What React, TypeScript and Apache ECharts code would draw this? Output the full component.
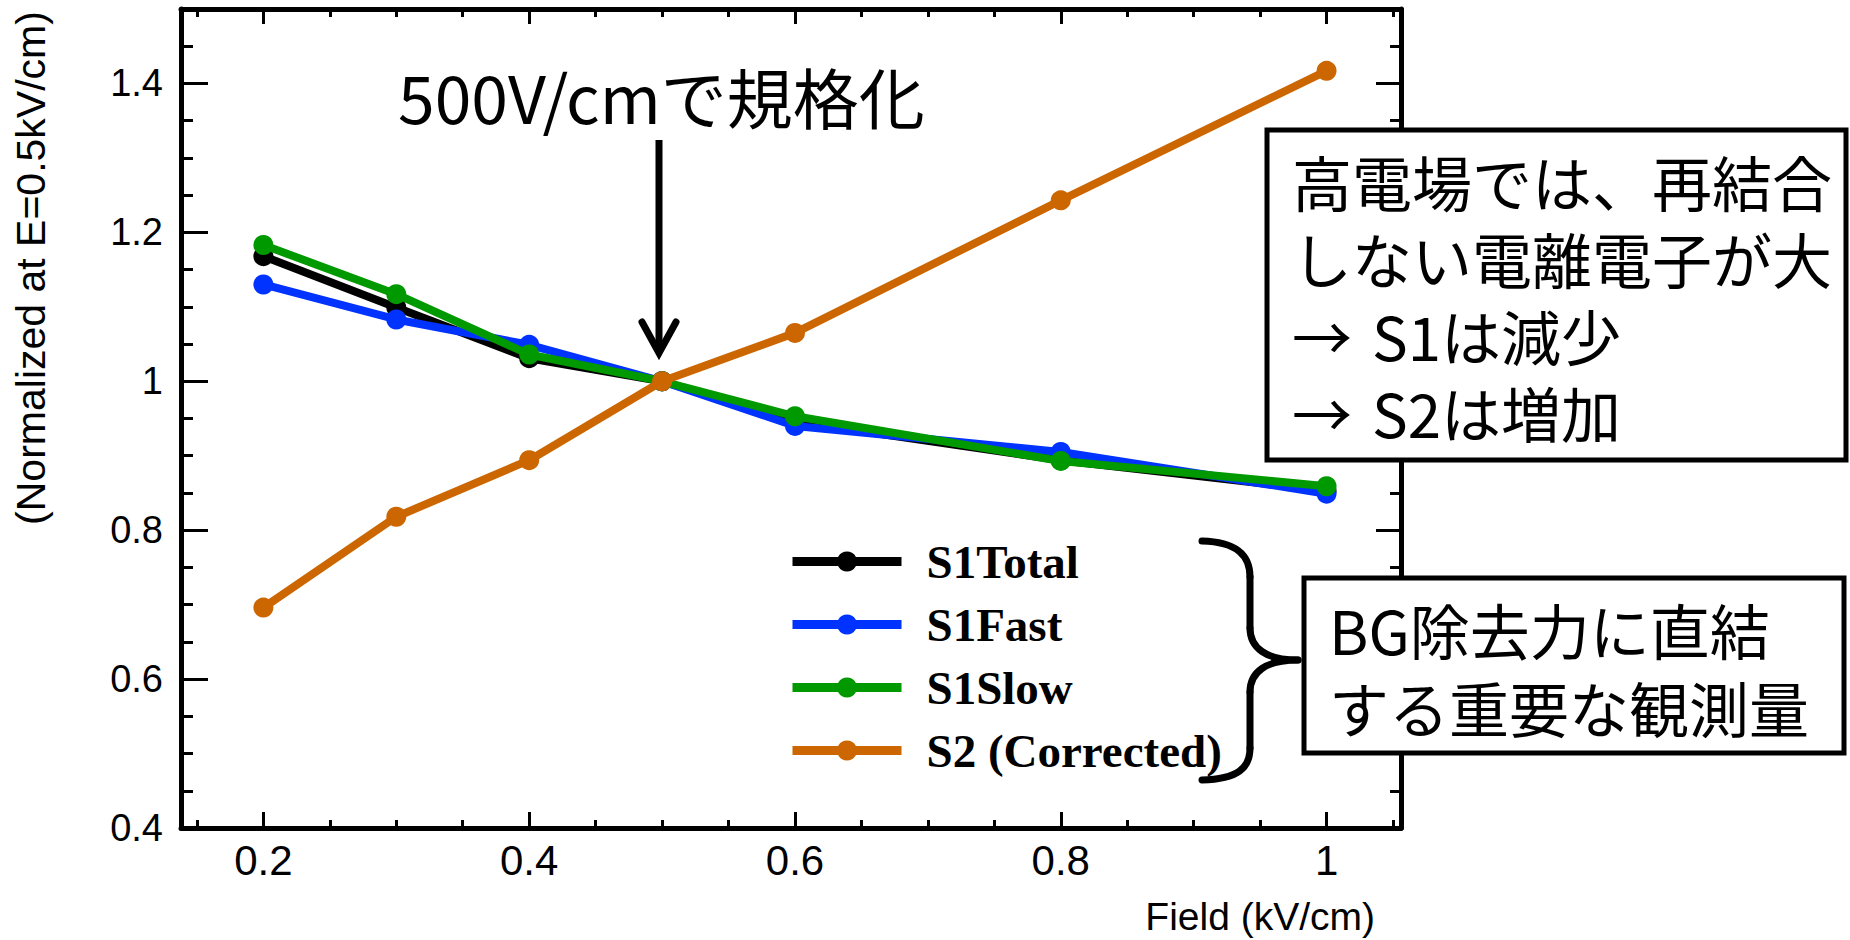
import React, { useEffect, useRef } from "react";
import * as echarts from "echarts";

// Drift field (kV/cm) and signal yields normalized at 0.5 kV/cm
const fields = [0.2, 0.3, 0.4, 0.5, 0.6, 0.8, 1.0];
const s1Total = [1.168, 1.099, 1.031, 1.0, 0.946, 0.894, 0.853];
const s1Fast = [1.13, 1.083, 1.049, 1.0, 0.94, 0.905, 0.849];
const s1Slow = [1.183, 1.117, 1.036, 1.0, 0.953, 0.893, 0.859];
const s2Corrected = [0.696, 0.818, 0.894, 1.0, 1.065, 1.243, 1.417];

const seriesNames = ["S1Total", "S1Fast", "S1Slow", "S2 (Corrected)"];
const seriesValues = [s1Total, s1Fast, s1Slow, s2Corrected];
const seriesColors = ["#000000", "#0033ff", "#009900", "#cc6600"];

const xRange = [0.138, 1.056];
const yRange = [0.4, 1.5];
const xMajorTicks = [0.2, 0.4, 0.6, 0.8, 1.0];
const xMinorTicks = [0.15, 0.25, 0.3, 0.35, 0.45, 0.5, 0.55, 0.65, 0.7, 0.75, 0.85, 0.9, 0.95, 1.05];
const yMajorTicks = [0.4, 0.6, 0.8, 1.0, 1.2, 1.4];
const yMinorTicks = [0.45, 0.5, 0.55, 0.65, 0.7, 0.75, 0.85, 0.9, 0.95, 1.05, 1.1, 1.15, 1.25, 1.3, 1.35, 1.45];

const xTitle = "Field (kV/cm)";
const yTitle = "(Normalized at E=0.5kV/cm)";
const noteTitle = "500V/cmで規格化";
// a wider space after each arrow keeps the gap before "S1"/"S2"
const noteBox1 = ["高電場では、再結合", "しない電離電子が大", "→\u2004S1は減少", "→\u2004S2は増加"];
const noteBox2 = ["BG除去力に直結", "する重要な観測量"];

const SANS = "Liberation Sans, Arial, Helvetica, sans-serif";
const SERIF = "Liberation Serif, Times New Roman, serif";
const CJK = "Noto Sans CJK JP, sans-serif";

function xAxisDef(position: "bottom" | "top", ticks: number[], len: number, withLine: boolean, withLabels: boolean) {
  return {
    type: "value",
    position,
    min: xRange[0],
    max: xRange[1],
    splitLine: { show: false },
    axisLine: { show: withLine, onZero: false, lineStyle: { color: "#000", width: 5 } },
    axisTick: { show: true, inside: true, length: len, customValues: ticks, lineStyle: { color: "#000", width: 3 } },
    axisLabel: withLabels
      ? { show: true, customValues: xMajorTicks, fontSize: 42, fontFamily: SANS, color: "#000", margin: 11 }
      : { show: false },
  };
}

function yAxisDef(position: "left" | "right", ticks: number[], len: number, withLine: boolean, withLabels: boolean) {
  return {
    type: "value",
    position,
    min: yRange[0],
    max: yRange[1],
    splitLine: { show: false },
    axisLine: { show: withLine, onZero: false, lineStyle: { color: "#000", width: 5 } },
    axisTick: { show: true, inside: true, length: len, customValues: ticks, lineStyle: { color: "#000", width: 3 } },
    axisLabel: withLabels
      ? { show: true, customValues: yMajorTicks, fontSize: 38, fontFamily: SANS, color: "#000", margin: 18 }
      : { show: false },
  };
}

function textEl(text: string, x: number, y: number, fontSize: number, fontFamily: string, align: string, extra: any = {}) {
  return {
    type: "text",
    x,
    y,
    z: 100,
    ...extra,
    style: {
      text,
      fill: "#000",
      fontSize,
      fontFamily,
      align,
      verticalAlign: "middle",
    },
  };
}

// multi-line note text: one block per box, lines spaced by lineHeight
function noteBlock(lines: string[], x: number, firstCenterY: number, lineHeight: number) {
  return {
    type: "text",
    x,
    y: firstCenterY - lineHeight / 2,
    z: 100,
    style: {
      text: lines.join("\n"),
      fill: "#000",
      fontSize: 60,
      fontFamily: CJK,
      align: "left",
      verticalAlign: "top",
      lineHeight,
    },
  };
}

export default function App() {
  const ref = useRef<HTMLDivElement>(null);

  useEffect(() => {
    if (!ref.current) return;
    const chart = echarts.init(ref.current, undefined, { renderer: "svg" });

    const series = seriesNames.map((name, i) => ({
      name,
      type: "line",
      xAxisIndex: 0,
      yAxisIndex: 0,
      data: fields.map((f, j) => [f, seriesValues[i][j]]),
      symbol: "circle",
      symbolSize: 20,
      showSymbol: true,
      lineStyle: { color: seriesColors[i], width: 8 },
      itemStyle: { color: seriesColors[i] },
      emphasis: { disabled: true },
      z: 2 + i,
    }));

    const stroke = { stroke: "#000", lineWidth: 7, fill: "none", lineCap: "round" };

    const graphics: any[] = [
      textEl(yTitle, 31, 268, 41, SANS, "center", { rotation: Math.PI / 2 }),
      textEl(xTitle, 1375, 916, 39, SANS, "right"),
      textEl(noteTitle, 398, 95, 66, CJK, "left"),
      // arrow pointing at the normalization point
      { type: "line", z: 100, shape: { x1: 659, y1: 140, x2: 659, y2: 352 }, style: { stroke: "#000", lineWidth: 7 } },
      {
        type: "polyline",
        z: 100,
        shape: { points: [[642, 322], [659, 353], [676, 322]] },
        style: { stroke: "#000", lineWidth: 7, fill: "none", lineJoin: "miter", lineCap: "round" },
      },
      // upper note box
      {
        type: "rect",
        z: 99,
        shape: { x: 1267, y: 130, width: 579, height: 330 },
        style: { fill: "#fff", stroke: "#000", lineWidth: 5 },
      },
      noteBlock(noteBox1, 1292, 180, 77),
      // lower note box
      {
        type: "rect",
        z: 99,
        shape: { x: 1304, y: 578, width: 540, height: 175 },
        style: { fill: "#fff", stroke: "#000", lineWidth: 5 },
      },
      noteBlock(noteBox2, 1329, 628, 78),
      // curly brace grouping the legend
      { type: "bezierCurve", z: 100, shape: { x1: 1202, y1: 541, cpx1: 1238, cpy1: 542, cpx2: 1250, cpy2: 556, x2: 1250, y2: 577 }, style: stroke },
      { type: "line", z: 100, shape: { x1: 1250, y1: 577, x2: 1250, y2: 628 }, style: stroke },
      { type: "bezierCurve", z: 100, shape: { x1: 1250, y1: 628, cpx1: 1250, cpy1: 648, cpx2: 1266, cpy2: 660, x2: 1298, y2: 660 }, style: stroke },
      { type: "bezierCurve", z: 100, shape: { x1: 1298, y1: 660, cpx1: 1266, cpy1: 660, cpx2: 1250, cpy2: 672, x2: 1250, y2: 692 }, style: stroke },
      { type: "line", z: 100, shape: { x1: 1250, y1: 692, x2: 1250, y2: 748 }, style: stroke },
      { type: "bezierCurve", z: 100, shape: { x1: 1250, y1: 748, cpx1: 1250, cpy1: 768, cpx2: 1238, cpy2: 779, x2: 1202, y2: 780 }, style: stroke },
    ];

    chart.setOption({
      animation: false,
      backgroundColor: "#fff",
      grid: { left: 181, top: 9, width: 1220, height: 819, containLabel: false },
      xAxis: [
        xAxisDef("bottom", xMajorTicks, 16, true, true),
        xAxisDef("bottom", xMinorTicks, 8, false, false),
        xAxisDef("top", xMajorTicks, 15, true, false),
        xAxisDef("top", xMinorTicks, 8, false, false),
      ],
      yAxis: [
        yAxisDef("left", yMajorTicks, 27, true, true),
        yAxisDef("left", yMinorTicks, 12, false, false),
        yAxisDef("right", yMajorTicks, 25, true, false),
        yAxisDef("right", yMinorTicks, 11, false, false),
      ],
      legend: {
        data: seriesNames,
        orient: "vertical",
        left: 788,
        top: 538,
        padding: 0,
        itemWidth: 109,
        itemHeight: 25,
        itemGap: 16,
        selectedMode: false,
        lineStyle: { width: 9 },
        textStyle: {
          fontFamily: SERIF,
          fontWeight: "bold",
          fontSize: 47,
          color: "#000",
          padding: [0, 0, 0, 20],
        },
      },
      series,
      graphic: graphics,
    });

    return () => chart.dispose();
  }, []);

  return (
    <div
      ref={ref}
      style={{ position: "absolute", left: 0, top: 0, width: 1850, height: 940, background: "#fff" }}
    />
  );
}
